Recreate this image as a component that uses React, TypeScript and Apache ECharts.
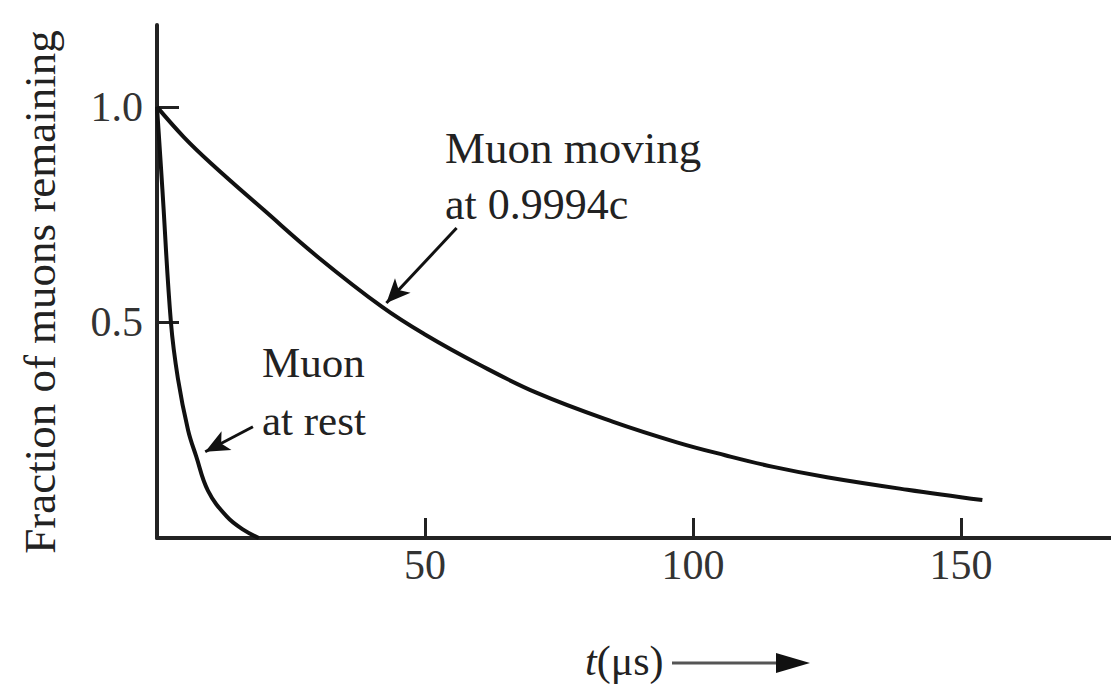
import React, { useEffect, useRef } from "react";
import * as echarts from "echarts";

// Time in microseconds and surviving fraction for the moving muon
const movingT = [0, 5, 10, 20, 30, 42, 50, 60, 71, 85, 97, 106, 115, 125, 140, 154];
const movingFraction = [1.0, 0.93, 0.87, 0.76, 0.652, 0.536, 0.472, 0.403, 0.336, 0.27, 0.222, 0.192, 0.165, 0.141, 0.112, 0.088];

// Time in microseconds and surviving fraction for the muon at rest
const restT = [0, 1, 2.6, 3.9, 5.8, 7.3, 9.5, 13, 16, 19];
const restFraction = [1.0, 0.81, 0.5, 0.37, 0.25, 0.19, 0.11, 0.05, 0.02, 0.0];

const xTicks = [50, 100, 150];
const yTicks = [0.5, 1.0];

// Annotation arrows in data coordinates: [from, to]
const movingArrow = [[55.9, 0.719], [42.8, 0.545]];
const restArrow = [[17.9, 0.258], [9.0, 0.2]];

const SERIF = "'Liberation Serif', 'DejaVu Serif', serif";
const INK = "#111";

export default function App() {
  const ref = useRef<HTMLDivElement>(null);

  useEffect(() => {
    if (!ref.current) return;
    const chart = echarts.init(ref.current, undefined, { renderer: "svg" });

    const arrowLine = (pts: number[][]) => ({
      silent: true,
      symbol: ["none", "arrow"],
      symbolSize: [16, 24],
      label: { show: false },
      lineStyle: { color: INK, width: 3, type: "solid" },
      emphasis: { disabled: true },
      data: [[{ coord: pts[0] }, { coord: pts[1] }]],
    });

    chart.setOption({
      animation: false,
      backgroundColor: "#fff",
      grid: { left: 157, right: 0, top: 25, bottom: 154 },
      xAxis: {
        type: "value",
        min: 0,
        max: 178,
        splitLine: { show: false },
        axisLine: { show: true, lineStyle: { color: "#222", width: 4 } },
        axisTick: {
          show: true,
          inside: true,
          length: 20,
          customValues: xTicks,
          lineStyle: { color: "#222", width: 3 },
        },
        axisLabel: {
          customValues: xTicks,
          fontFamily: SERIF,
          fontSize: 42,
          color: "#333",
          margin: 6,
        },
      },
      yAxis: {
        type: "value",
        min: 0,
        max: 1.19,
        splitLine: { show: false },
        axisLine: { show: true, lineStyle: { color: "#222", width: 4 } },
        axisTick: {
          show: true,
          inside: true,
          length: 22,
          customValues: yTicks,
          lineStyle: { color: "#222", width: 3 },
        },
        axisLabel: {
          customValues: yTicks,
          formatter: (v: number) => v.toFixed(1),
          fontFamily: SERIF,
          fontSize: 42,
          color: "#333",
          margin: 14,
        },
      },
      series: [
        {
          type: "line",
          data: movingT.map((t, i) => [t, movingFraction[i]]),
          showSymbol: false,
          smooth: 0.4,
          lineStyle: { color: INK, width: 4 },
          silent: true,
          markLine: arrowLine(movingArrow),
        },
        {
          type: "line",
          data: restT.map((t, i) => [t, restFraction[i]]),
          showSymbol: false,
          smooth: 0.4,
          lineStyle: { color: INK, width: 4 },
          silent: true,
          markLine: arrowLine(restArrow),
        },
      ],
      graphic: [
        {
          type: "text",
          x: 40,
          y: 292,
          rotation: Math.PI / 2,
          style: {
            text: "Fraction of muons remaining",
            font: `45px ${SERIF}`,
            fill: "#222",
            align: "center",
            verticalAlign: "middle",
          },
        },
        {
          type: "text",
          x: 445,
          y: 148,
          style: {
            text: "Muon moving",
            font: `45px ${SERIF}`,
            fill: "#222",
            align: "left",
            verticalAlign: "middle",
          },
        },
        {
          type: "text",
          x: 445,
          y: 204,
          style: {
            text: "at 0.9994c",
            font: `44px ${SERIF}`,
            fill: "#222",
            align: "left",
            verticalAlign: "middle",
          },
        },
        {
          type: "text",
          x: 262,
          y: 362,
          style: {
            text: "Muon",
            font: `43px ${SERIF}`,
            fill: "#222",
            align: "left",
            verticalAlign: "middle",
          },
        },
        {
          type: "text",
          x: 262,
          y: 420,
          style: {
            text: "at rest",
            font: `43px ${SERIF}`,
            fill: "#222",
            align: "left",
            verticalAlign: "middle",
          },
        },
        {
          type: "text",
          x: 585,
          y: 661,
          style: {
            text: "{i|t}(μs)",
            font: `42px ${SERIF}`,
            fill: "#222",
            align: "left",
            verticalAlign: "middle",
            rich: {
              i: { fontStyle: "italic", fontFamily: SERIF, fontSize: 42, fill: "#222" },
            },
          },
        },
        {
          type: "line",
          shape: { x1: 672, y1: 663, x2: 785, y2: 663 },
          style: { stroke: "#555", lineWidth: 3 },
        },
        {
          type: "polygon",
          shape: { points: [[776, 653], [810, 663], [776, 673]] },
          style: { fill: INK },
        },
      ],
    });

    return () => chart.dispose();
  }, []);

  return (
    <div
      ref={ref}
      style={{ position: "absolute", left: 0, top: 0, width: 1111, height: 692, background: "#fff" }}
    />
  );
}
